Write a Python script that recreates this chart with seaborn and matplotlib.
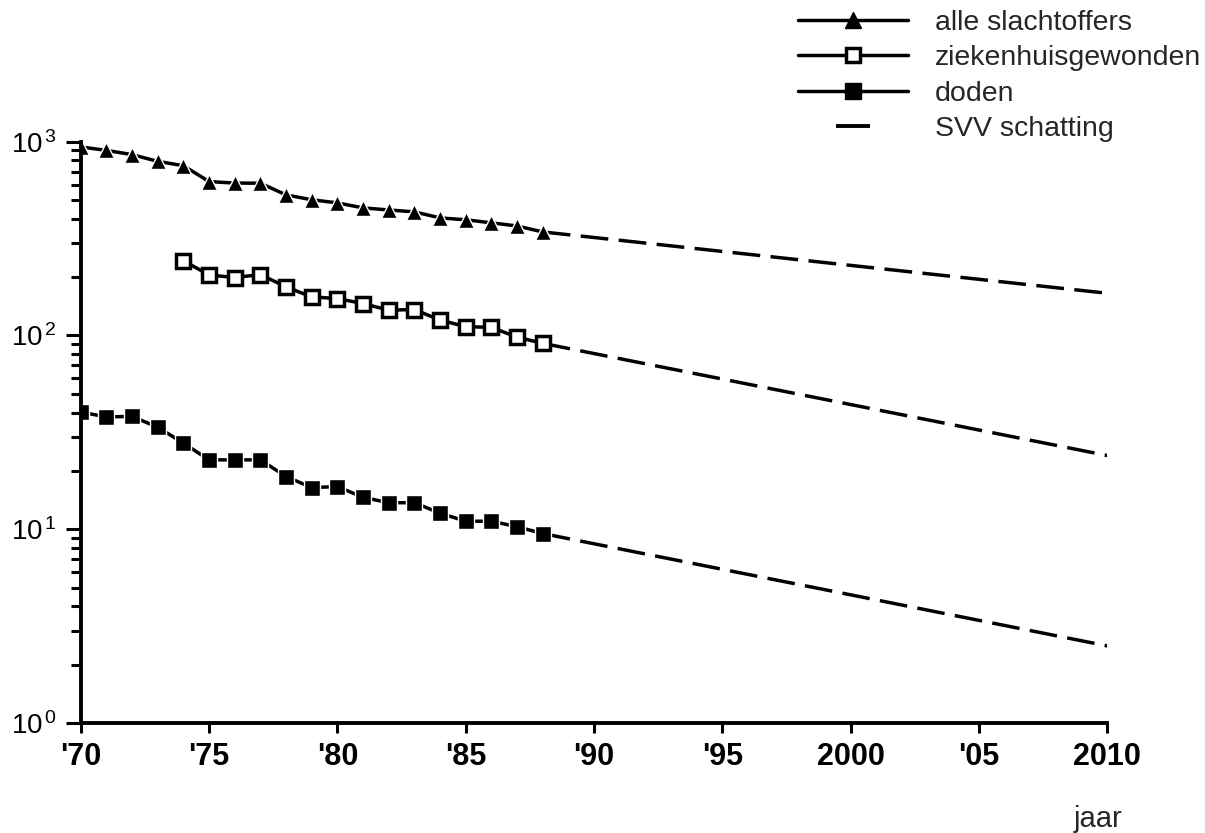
import numpy as np
import pandas as pd
import matplotlib
matplotlib.use("Agg")
import matplotlib.pyplot as plt
from matplotlib.lines import Line2D
from matplotlib.ticker import FixedLocator, LogLocator, NullFormatter
import seaborn as sns

# verkeersslachtoffers per jaar (log-schaal)
years = list(range(1970, 1989))
alle = [939, 901, 857, 791, 751, 622, 611, 610, 531, 501, 483, 455, 444, 434, 404, 395, 381, 367, 342]
zh_years = list(range(1974, 1989))
ziekenhuis = [243, 205, 199, 206, 178, 158, 155, 146, 135, 136, 120, 111, 110, 98, 91]
doden = [40.2, 38.0, 38.2, 33.6, 27.8, 22.8, 22.8, 22.8, 18.7, 16.4, 16.6, 14.6, 13.7, 13.7, 12.1, 11.0, 11.0, 10.3, 9.5]

# SVV schatting: van 1988 tot 2010
svv_years = [1988, 2010]
svv_alle = [342, 165]
svv_ziekenhuis = [91, 24]
svv_doden = [9.5, 2.5]

xtick_pos = [1970, 1975, 1980, 1985, 1990, 1995, 2000, 2005, 2010]
xtick_labels = ["'70", "'75", "'80", "'85", "'90", "'95", "2000", "'05", "2010"]
ytick_pos = [1, 10, 100, 1000]
ytick_labels = [r"$10^{\,0}$", r"$10^{\,1}$", r"$10^{\,2}$", r"$10^{\,3}$"]

sns.set_theme(style="ticks")
plt.rcParams["font.family"] = ["Liberation Sans", "DejaVu Sans"]
plt.rcParams["mathtext.fontset"] = "custom"
plt.rcParams["mathtext.rm"] = "Liberation Sans"
plt.rcParams["mathtext.it"] = "Liberation Sans"

fig = plt.figure(figsize=(12.05, 8.33), dpi=100)
ax = fig.add_axes([0.067, 0.132, 0.852, 0.698])

df_alle = pd.DataFrame({"jaar": years, "n": alle})
df_zh = pd.DataFrame({"jaar": zh_years, "n": ziekenhuis})
df_dood = pd.DataFrame({"jaar": years, "n": doden})

lw = 2.5
sns.lineplot(data=df_alle, x="jaar", y="n", ax=ax, color="black", lw=lw,
             marker="^", markersize=12, markeredgewidth=1, errorbar=None)
sns.lineplot(data=df_zh, x="jaar", y="n", ax=ax, color="black", lw=lw,
             marker="s", markersize=10, markerfacecolor="white",
             markeredgecolor="black", markeredgewidth=2.5, errorbar=None)
sns.lineplot(data=df_dood, x="jaar", y="n", ax=ax, color="black", lw=lw,
             marker="s", markersize=11, markeredgewidth=1, errorbar=None)

# SVV schatting als streeplijn
for vals in [svv_alle, svv_ziekenhuis, svv_doden]:
    sns.lineplot(x=svv_years, y=vals, ax=ax, color="black", lw=2.5,
                 linestyle=(0, (8, 3)), errorbar=None, zorder=1)

ax.set_yscale("log")
ax.set_xlim(1970, 2010)
ax.set_ylim(1, 1000)
ax.xaxis.set_major_locator(FixedLocator(xtick_pos))
ax.set_xticklabels(xtick_labels, fontsize=22, fontweight="bold")
ax.yaxis.set_minor_locator(LogLocator(base=10, subs=np.arange(2, 10), numticks=10))
ax.yaxis.set_minor_formatter(NullFormatter())
ax.set_yticks(ytick_pos)
ax.set_yticklabels(ytick_labels, fontsize=20)

ax.tick_params(axis="x", which="major", length=7, width=2.2, pad=7, colors="black")
ax.tick_params(axis="y", which="major", length=11, width=2.2, pad=6, colors="black")
ax.tick_params(axis="y", which="minor", length=7, width=2.2, colors="black")
ax.set_xlabel("")
ax.set_ylabel("")
sns.despine(ax=ax)
for side in ["left", "bottom"]:
    ax.spines[side].set_linewidth(2.8)
    ax.spines[side].set_color("black")

fig.text(1122 / 1205, 6 / 833, "jaar", fontsize=21, ha="right", va="baseline")

handles = [
    Line2D([], [], color="black", lw=lw, marker="^", markersize=12),
    Line2D([], [], color="black", lw=lw, marker="s", markersize=10,
           markerfacecolor="white", markeredgewidth=2.5),
    Line2D([], [], color="black", lw=lw, marker="s", markersize=11),
    Line2D([], [], color="black", ls="none", marker="_", markersize=24, markeredgewidth=2.8),
]
labels = ["alle slachtoffers", "ziekenhuisgewonden", "doden", "SVV schatting"]
fig.legend(handles, labels, loc="upper left", bbox_to_anchor=(0.662, 0.988),
           frameon=False, fontsize=20.5, handlelength=3.86, handletextpad=0.95,
           labelspacing=0.33, borderpad=0, borderaxespad=0, numpoints=1)

fig.savefig("out.png", dpi=100, facecolor="white")
